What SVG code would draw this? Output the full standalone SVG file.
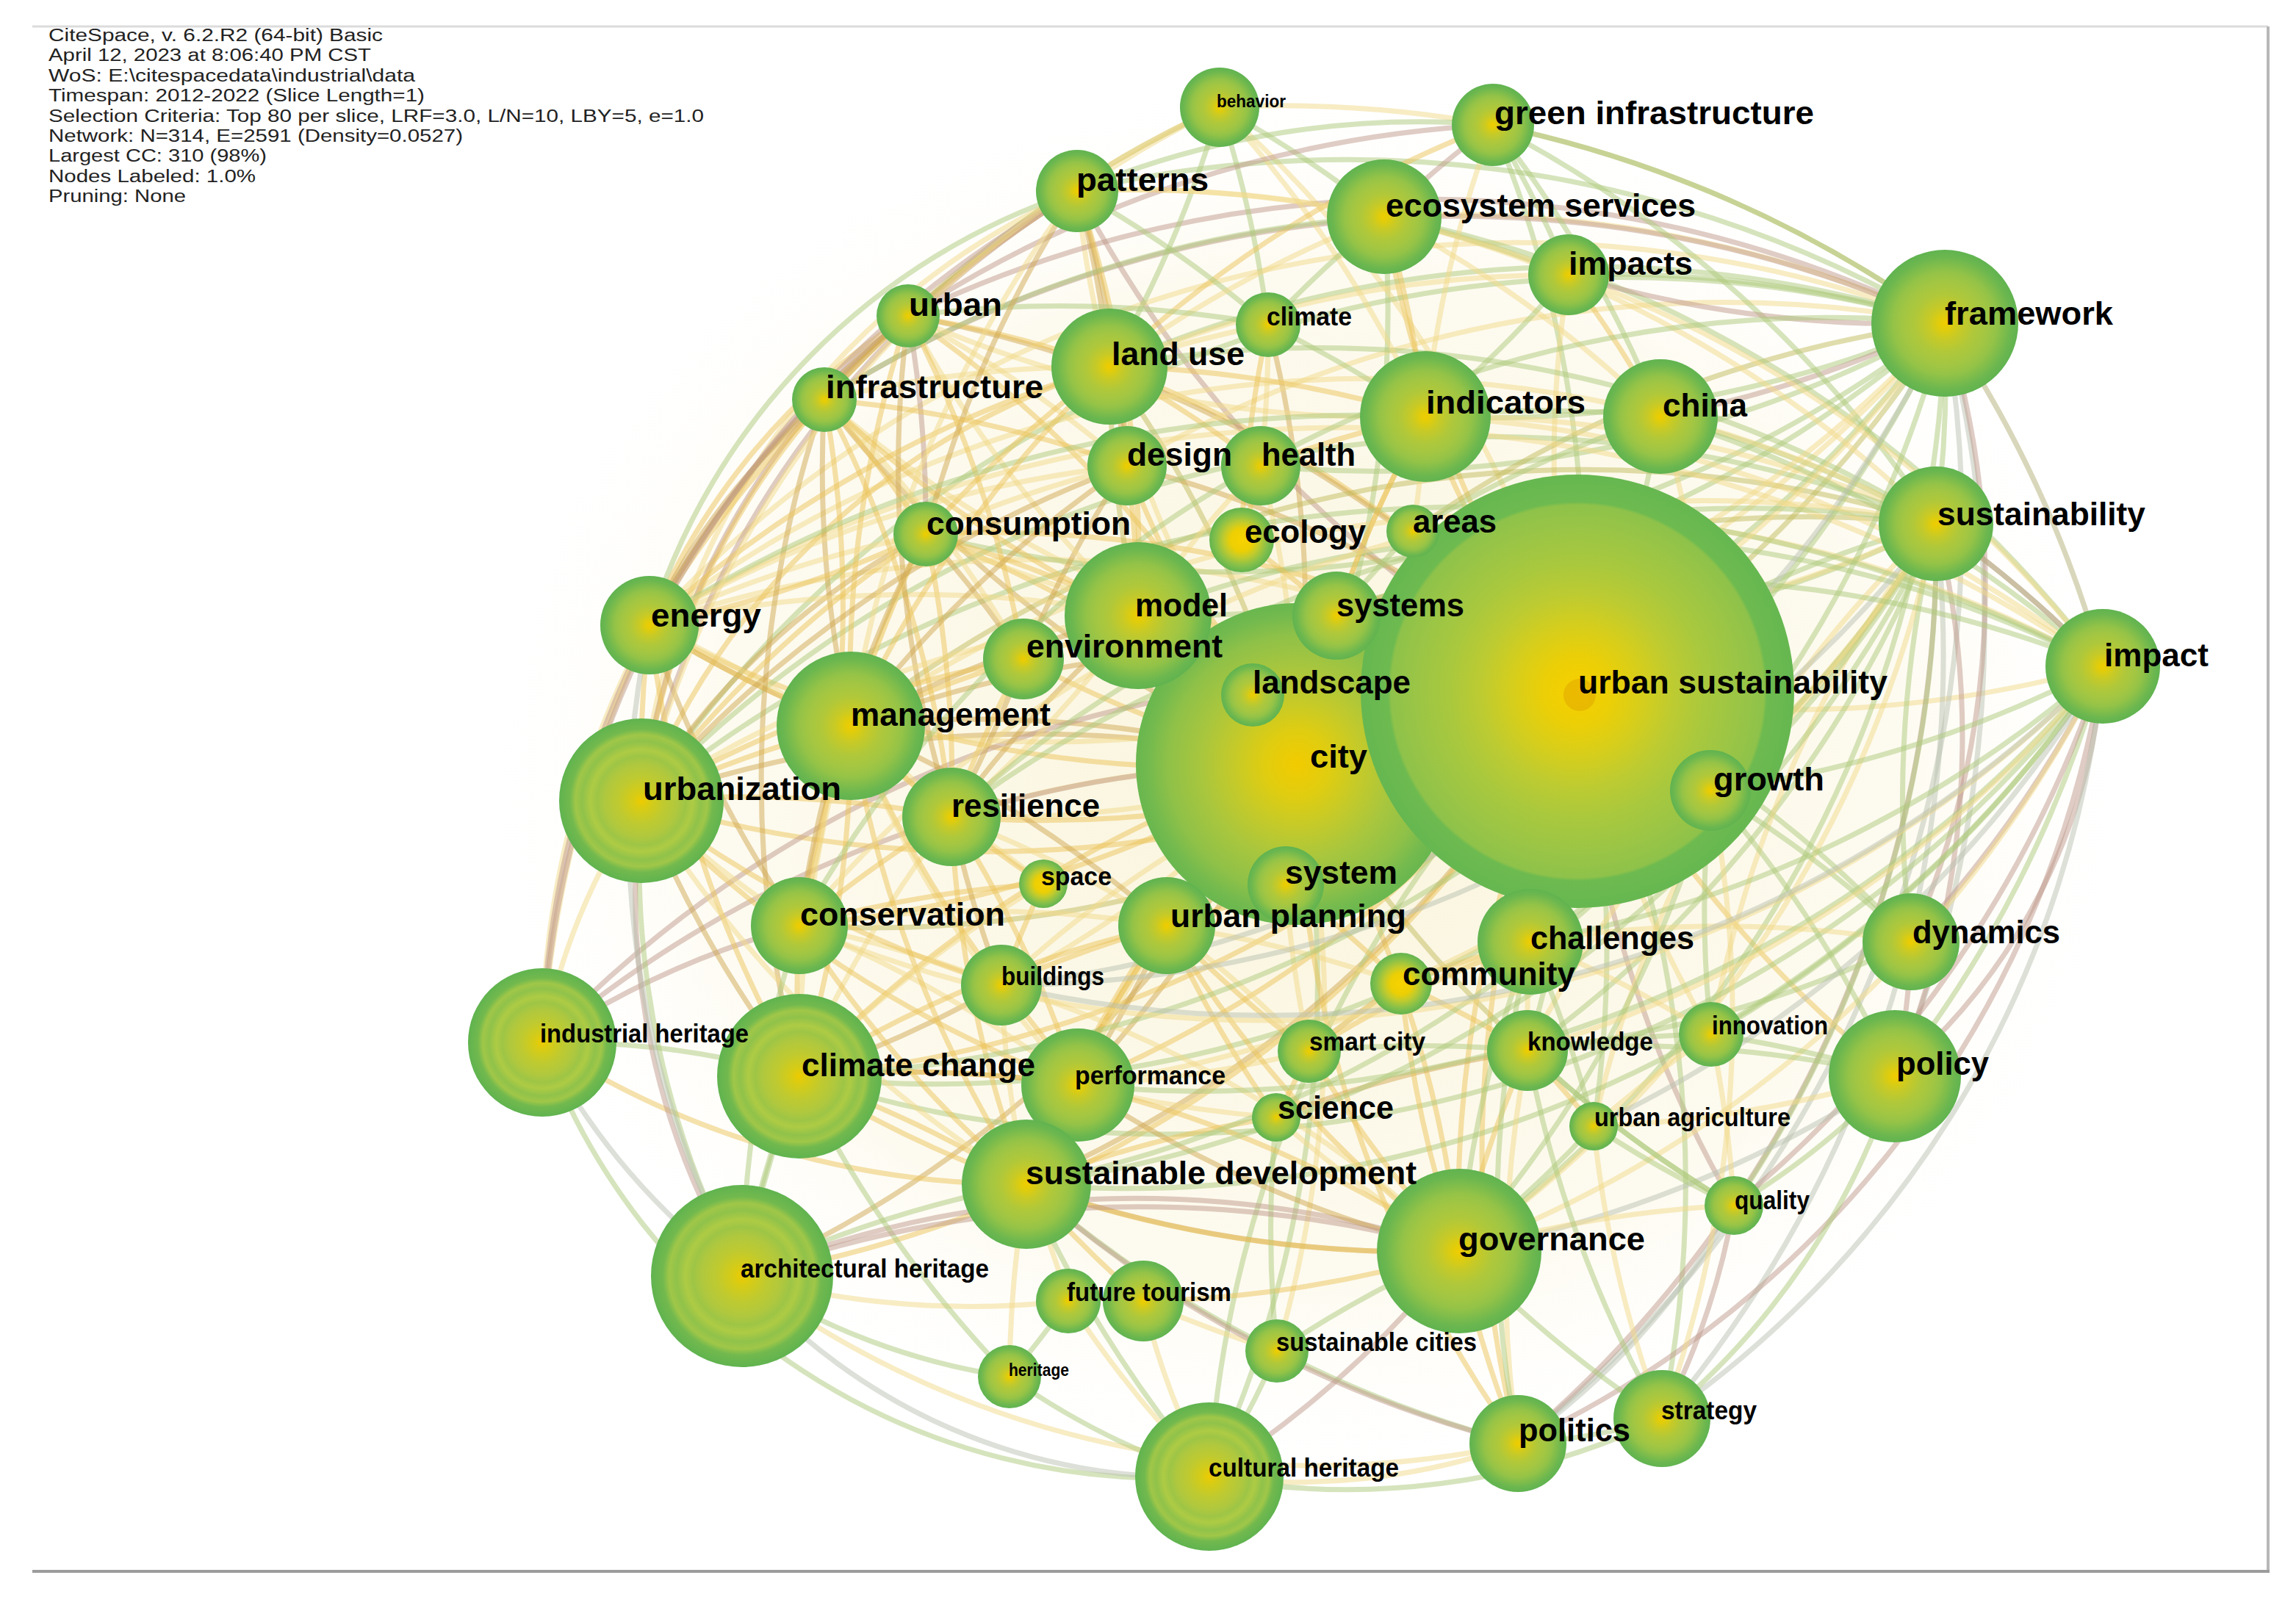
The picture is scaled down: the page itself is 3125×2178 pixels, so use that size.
<svg xmlns="http://www.w3.org/2000/svg" width="3125" height="2178" viewBox="0 0 3125 2178">
<style>
.hd{font-family:"Liberation Sans",Arial,sans-serif;font-size:23px;fill:#222}
.L{font-family:"Liberation Sans",Arial,sans-serif;font-weight:bold;font-size:44px;fill:#000}
.M{font-family:"Liberation Sans",Arial,sans-serif;font-weight:bold;font-size:35px;fill:#000}
.S{font-family:"Liberation Sans",Arial,sans-serif;font-weight:bold;font-size:23px;fill:#000}
#edges path{fill:none;stroke-width:7;stroke-opacity:.5;stroke-linecap:round}
#edges .a{stroke:#ecc45a}
#edges .b{stroke:#cfa852}
#edges .c{stroke:#aec97c}
#edges .d{stroke:#c09a8c}
#edges .e{stroke:#f1d98a}
#edges .f{stroke:#c2bb5e}
#edges .g{stroke:#b9c2b2}
.n{fill:url(#gn)}
.r{fill:url(#gr)}
</style>
<defs>
<radialGradient id="gn">
<stop offset="0" stop-color="#f0cc00"/>
<stop offset=".08" stop-color="#e2cd0a"/>
<stop offset=".22" stop-color="#c8ca26"/>
<stop offset=".4" stop-color="#b0c83a"/>
<stop offset=".58" stop-color="#a2c643"/>
<stop offset=".7" stop-color="#94c347"/>
<stop offset=".8" stop-color="#80bd4b"/>
<stop offset=".9" stop-color="#6cb74f"/>
<stop offset="1" stop-color="#60b350"/>
</radialGradient>
<radialGradient id="gr">
<stop offset="0" stop-color="#eecb00"/>
<stop offset=".1" stop-color="#d8cc14"/>
<stop offset=".28" stop-color="#bfca30"/>
<stop offset=".44" stop-color="#b0c83e"/>
<stop offset=".54" stop-color="#9ec546"/>
<stop offset=".62" stop-color="#aecb44"/>
<stop offset=".72" stop-color="#90c24a"/>
<stop offset=".8" stop-color="#a0c748"/>
<stop offset=".87" stop-color="#72b94e"/>
<stop offset="1" stop-color="#60b34f"/>
</radialGradient>
<radialGradient id="gy">
<stop offset="0" stop-color="#f8d200"/>
<stop offset=".35" stop-color="#eccf04"/>
<stop offset=".55" stop-color="#c2cb2c"/>
<stop offset=".8" stop-color="#86c04a"/>
<stop offset="1" stop-color="#62b44f"/>
</radialGradient>
<radialGradient id="gus">
<stop offset="0" stop-color="#f7d000"/>
<stop offset=".15" stop-color="#eccf06"/>
<stop offset=".3" stop-color="#d6ce1c"/>
<stop offset=".45" stop-color="#bccb32"/>
<stop offset=".6" stop-color="#a8c83e"/>
<stop offset=".75" stop-color="#9ac546"/>
<stop offset=".86" stop-color="#8ec24a"/>
<stop offset=".875" stop-color="#6dba50"/>
<stop offset="1" stop-color="#66b750"/>
</radialGradient>
<radialGradient id="gcity">
<stop offset="0" stop-color="#f2cb00"/>
<stop offset=".2" stop-color="#e0cd10"/>
<stop offset=".4" stop-color="#c4ca2a"/>
<stop offset=".6" stop-color="#a8c63e"/>
<stop offset=".8" stop-color="#8fc148"/>
<stop offset=".92" stop-color="#74ba4e"/>
<stop offset="1" stop-color="#68b74f"/>
</radialGradient>
<radialGradient id="haze">
<stop offset="0" stop-color="#f5e9b4" stop-opacity=".5"/>
<stop offset=".7" stop-color="#f8efc8" stop-opacity=".28"/>
<stop offset="1" stop-color="#ffffff" stop-opacity="0"/>
</radialGradient>
</defs>
<rect width="3125" height="2178" fill="#fff"/>
<ellipse cx="1780" cy="1060" rx="1150" ry="980" fill="url(#haze)"/>
<g id="frame" fill="none">
<line x1="44" y1="36" x2="3087" y2="36" stroke="#dcdcdc" stroke-width="3"/>
<line x1="3087" y1="36" x2="3087" y2="2139" stroke="#b8b8b8" stroke-width="4"/>
<line x1="44" y1="2139" x2="3089" y2="2139" stroke="#9c9c9c" stroke-width="4"/>
</g>
<g id="header">
<text class="hd" x="66" y="56" textLength="455" lengthAdjust="spacingAndGlyphs">CiteSpace, v. 6.2.R2 (64-bit) Basic</text>
<text class="hd" x="66" y="83" textLength="439" lengthAdjust="spacingAndGlyphs">April 12, 2023 at 8:06:40 PM CST</text>
<text class="hd" x="66" y="111" textLength="499" lengthAdjust="spacingAndGlyphs">WoS: E:\citespacedata\industrial\data</text>
<text class="hd" x="66" y="138" textLength="512" lengthAdjust="spacingAndGlyphs">Timespan: 2012-2022 (Slice Length=1)</text>
<text class="hd" x="66" y="166" textLength="892" lengthAdjust="spacingAndGlyphs">Selection Criteria: Top 80 per slice, LRF=3.0, L/N=10, LBY=5, e=1.0</text>
<text class="hd" x="66" y="193" textLength="564" lengthAdjust="spacingAndGlyphs">Network: N=314, E=2591 (Density=0.0527)</text>
<text class="hd" x="66" y="220" textLength="297" lengthAdjust="spacingAndGlyphs">Largest CC: 310 (98%)</text>
<text class="hd" x="66" y="248" textLength="282" lengthAdjust="spacingAndGlyphs">Nodes Labeled: 1.0%</text>
<text class="hd" x="66" y="275" textLength="187" lengthAdjust="spacingAndGlyphs">Pruning: None</text>
</g>
<g id="edges">
<path class="a" d="M1765 1040A1600 1600 0 0 1 1549 838"/>
<path class="b" d="M1765 1040A1600 1600 0 0 0 1158 988"/>
<path class="a" d="M1765 1040A1600 1600 0 0 1 1393 897"/>
<path class="e" d="M1765 1040A1600 1600 0 0 0 1295 1112"/>
<path class="a" d="M1765 1040A1600 1600 0 0 1 1088 1260"/>
<path class="b" d="M1765 1040A1600 1600 0 0 0 873 1090"/>
<path class="a" d="M1765 1040A1600 1600 0 0 1 884 851"/>
<path class="f" d="M1765 1040A1600 1600 0 0 0 1510 499"/>
<path class="a" d="M1765 1040A1600 1600 0 0 1 1534 634"/>
<path class="e" d="M1765 1040A1600 1600 0 0 0 1716 634"/>
<path class="a" d="M1765 1040A1600 1600 0 0 0 1260 727"/>
<path class="b" d="M1765 1040A1600 1600 0 0 1 1122 544"/>
<path class="a" d="M1765 1040A1600 1600 0 0 0 1236 430"/>
<path class="e" d="M1765 1040A1600 1600 0 0 1 1466 260"/>
<path class="a" d="M1765 1040A1600 1600 0 0 0 1088 1465"/>
<path class="b" d="M1765 1040A1600 1600 0 0 1 1467 1477"/>
<path class="a" d="M1765 1040A1600 1600 0 0 0 1397 1612"/>
<path class="e" d="M1765 1040A1600 1600 0 0 1 1363 1341"/>
<path class="a" d="M1765 1040A1600 1600 0 0 1 1986 1703"/>
<path class="f" d="M1765 1040A1600 1600 0 0 0 2079 1430"/>
<path class="c" d="M1765 1040A1600 1600 0 0 1 1646 2010"/>
<path class="b" d="M1765 1040A1600 1600 0 0 1 1010 1737"/>
<path class="d" d="M1765 1040A1600 1600 0 0 0 738 1419"/>
<path class="a" d="M1765 1040A1600 1600 0 0 0 2066 1965"/>
<path class="e" d="M1765 1040A1600 1600 0 0 1 1738 1839"/>
<path class="c" d="M1765 1040A1600 1600 0 0 0 1884 295"/>
<path class="a" d="M1765 1040A1600 1600 0 0 1 1940 567"/>
<path class="b" d="M1765 1040A1600 1600 0 0 0 1726 442"/>
<path class="a" d="M2147 941A1600 1600 0 0 1 1940 567"/>
<path class="c" d="M2147 941A1600 1600 0 0 0 2260 567"/>
<path class="a" d="M2147 941A1600 1600 0 0 1 1884 295"/>
<path class="c" d="M2147 941A1600 1600 0 0 0 2032 170"/>
<path class="e" d="M2147 941A1600 1600 0 0 1 2135 374"/>
<path class="f" d="M2147 941A1600 1600 0 0 0 2647 440"/>
<path class="c" d="M2147 941A1600 1600 0 0 1 2635 713"/>
<path class="e" d="M2147 941A1600 1600 0 0 0 2862 907"/>
<path class="c" d="M2147 941A1600 1600 0 0 1 2601 1282"/>
<path class="a" d="M2147 941A1600 1600 0 0 0 2579 1465"/>
<path class="b" d="M2147 941A1600 1600 0 0 1 2083 1282"/>
<path class="a" d="M2147 941A1600 1600 0 0 0 1986 1703"/>
<path class="c" d="M2147 941A1600 1600 0 0 1 2079 1430"/>
<path class="e" d="M2147 941A1600 1600 0 0 0 2329 1408"/>
<path class="c" d="M2147 941A1600 1600 0 0 1 2169 1533"/>
<path class="d" d="M2147 941A1600 1600 0 0 0 2360 1641"/>
<path class="c" d="M2147 941A1600 1600 0 0 1 2262 1931"/>
<path class="a" d="M2147 941A1600 1600 0 0 0 2066 1965"/>
<path class="b" d="M2147 941A1600 1600 0 0 1 1397 1612"/>
<path class="a" d="M2147 941A1600 1600 0 0 1 1088 1465"/>
<path class="b" d="M2147 941A1600 1600 0 0 0 1158 988"/>
<path class="a" d="M2147 941A1600 1600 0 0 1 873 1090"/>
<path class="e" d="M2147 941A1600 1600 0 0 0 884 851"/>
<path class="a" d="M2147 941A1600 1600 0 0 1 1295 1112"/>
<path class="f" d="M2147 941A1600 1600 0 0 1 1088 1260"/>
<path class="a" d="M2147 941A1600 1600 0 0 0 1510 499"/>
<path class="b" d="M2147 941A1600 1600 0 0 0 1236 430"/>
<path class="e" d="M2147 941A1600 1600 0 0 1 1122 544"/>
<path class="a" d="M2147 941A1600 1600 0 0 0 1260 727"/>
<path class="d" d="M2147 941A1600 1600 0 0 1 1466 260"/>
<path class="e" d="M2147 941A1600 1600 0 0 0 1660 146"/>
<path class="a" d="M2147 941A1600 1600 0 0 1 1549 838"/>
<path class="b" d="M2147 941A1600 1600 0 0 0 1534 634"/>
<path class="a" d="M2147 941A1600 1600 0 0 1 1467 1477"/>
<path class="e" d="M2147 941A1600 1600 0 0 0 1363 1341"/>
<path class="c" d="M2147 941A1600 1600 0 0 0 1646 2010"/>
<path class="a" d="M2147 941A1600 1600 0 0 1 1010 1737"/>
<path class="d" d="M2147 941A1600 1600 0 0 0 738 1419"/>
<path class="c" d="M2647 440A1600 1600 0 0 0 1510 499"/>
<path class="d" d="M2647 440A1600 1600 0 0 0 1236 430"/>
<path class="c" d="M2647 440A1600 1600 0 0 0 1466 260"/>
<path class="e" d="M2647 440A1600 1600 0 0 0 1884 295"/>
<path class="c" d="M2647 440A1600 1600 0 0 0 2135 374"/>
<path class="f" d="M2647 440A1600 1600 0 0 0 2032 170"/>
<path class="c" d="M2647 440A1600 1600 0 0 1 1940 567"/>
<path class="d" d="M2647 440A1600 1600 0 0 1 2260 567"/>
<path class="c" d="M2647 440A1600 1600 0 0 1 1549 838"/>
<path class="e" d="M2647 440A1600 1600 0 0 1 1158 988"/>
<path class="c" d="M2647 440A1600 1600 0 0 0 873 1090"/>
<path class="e" d="M2647 440A1600 1600 0 0 0 884 851"/>
<path class="c" d="M2647 440A1600 1600 0 0 1 1260 727"/>
<path class="d" d="M2647 440A1600 1600 0 0 0 1122 544"/>
<path class="c" d="M2647 440A1600 1600 0 0 1 2635 713"/>
<path class="e" d="M2647 440A1600 1600 0 0 1 2862 907"/>
<path class="g" d="M2647 440A1600 1600 0 0 1 2579 1465"/>
<path class="d" d="M2647 440A1200 1200 0 0 1 2601 1282"/>
<path class="c" d="M2647 440A1600 1600 0 0 1 1986 1703"/>
<path class="g" d="M2647 440A1600 1600 0 0 1 2066 1965"/>
<path class="c" d="M2647 440A1600 1600 0 0 1 1765 1040"/>
<path class="e" d="M2647 440A1600 1600 0 0 0 1534 634"/>
<path class="c" d="M2647 440A1600 1600 0 0 1 1716 634"/>
<path class="f" d="M2647 440A1600 1600 0 0 0 1923 723"/>
<path class="c" d="M2635 713A1600 1600 0 0 0 2032 170"/>
<path class="e" d="M2635 713A1600 1600 0 0 0 1884 295"/>
<path class="c" d="M2635 713A1600 1600 0 0 0 2260 567"/>
<path class="e" d="M2635 713A1600 1600 0 0 0 1940 567"/>
<path class="c" d="M2635 713A1600 1600 0 0 0 1510 499"/>
<path class="f" d="M2635 713A1600 1600 0 0 0 1158 988"/>
<path class="c" d="M2635 713A1600 1600 0 0 0 873 1090"/>
<path class="e" d="M2635 713A1600 1600 0 0 0 884 851"/>
<path class="c" d="M2635 713A1600 1600 0 0 1 1088 1465"/>
<path class="c" d="M2635 713A1600 1600 0 0 1 2862 907"/>
<path class="d" d="M2635 713A1200 1200 0 0 1 2579 1465"/>
<path class="c" d="M2635 713A1600 1600 0 0 0 2601 1282"/>
<path class="e" d="M2635 713A1600 1600 0 0 1 1986 1703"/>
<path class="g" d="M2635 713A1600 1600 0 0 1 2262 1931"/>
<path class="d" d="M2635 713A1600 1600 0 0 1 2066 1965"/>
<path class="c" d="M2635 713A1600 1600 0 0 1 2079 1430"/>
<path class="e" d="M2635 713A1600 1600 0 0 0 2329 1408"/>
<path class="c" d="M2635 713A1600 1600 0 0 1 2360 1641"/>
<path class="e" d="M2635 713A1600 1600 0 0 0 2169 1533"/>
<path class="c" d="M2635 713A1600 1600 0 0 1 1549 838"/>
<path class="f" d="M2635 713A1600 1600 0 0 0 1819 838"/>
<path class="c" d="M2635 713A1600 1600 0 0 1 2328 1076"/>
<path class="e" d="M2635 713A1600 1600 0 0 1 1260 727"/>
<path class="c" d="M2862 907A1600 1600 0 0 0 2260 567"/>
<path class="e" d="M2862 907A1600 1600 0 0 0 1940 567"/>
<path class="c" d="M2862 907A1600 1600 0 0 0 1884 295"/>
<path class="c" d="M2862 907A1600 1600 0 0 1 2328 1076"/>
<path class="d" d="M2862 907A1600 1600 0 0 1 2601 1282"/>
<path class="c" d="M2862 907A1600 1600 0 0 1 2579 1465"/>
<path class="d" d="M2862 907A800 800 0 0 1 2579 1465"/>
<path class="e" d="M2862 907A1600 1600 0 0 1 1986 1703"/>
<path class="d" d="M2862 907A1400 1400 0 0 1 2066 1965"/>
<path class="g" d="M2862 907A1400 1400 0 0 1 2262 1931"/>
<path class="c" d="M2862 907A1600 1600 0 0 1 1088 1465"/>
<path class="e" d="M2862 907A1600 1600 0 0 0 1158 988"/>
<path class="c" d="M2862 907A1600 1600 0 0 0 1549 838"/>
<path class="c" d="M2862 907A1800 1800 0 0 0 873 1090"/>
<path class="e" d="M2862 907A1600 1600 0 0 0 2135 374"/>
<path class="c" d="M2862 907A1600 1600 0 0 1 2083 1282"/>
<path class="d" d="M2862 907A1600 1600 0 0 1 2360 1641"/>
<path class="c" d="M2862 907A1600 1600 0 0 1 1397 1612"/>
<path class="e" d="M2862 907A1800 1800 0 0 0 884 851"/>
<path class="c" d="M884 851A900 900 0 0 1 1466 260"/>
<path class="a" d="M884 851A900 900 0 0 1 1236 430"/>
<path class="b" d="M884 851A900 900 0 0 1 1122 544"/>
<path class="e" d="M873 1090A1000 1000 0 0 1 1466 260"/>
<path class="a" d="M873 1090A1000 1000 0 0 1 1510 499"/>
<path class="d" d="M873 1090A1000 1000 0 0 1 1236 430"/>
<path class="a" d="M873 1090A1000 1000 0 0 1 1122 544"/>
<path class="b" d="M873 1090A1000 1000 0 0 1 1260 727"/>
<path class="c" d="M738 1419A1200 1200 0 0 1 1088 1465"/>
<path class="g" d="M738 1419A900 900 0 0 0 1010 1737"/>
<path class="c" d="M738 1419A900 900 0 0 0 1646 2010"/>
<path class="e" d="M738 1419A900 900 0 0 1 873 1090"/>
<path class="d" d="M738 1419A1200 1200 0 0 1 1088 1260"/>
<path class="a" d="M738 1419A1200 1200 0 0 0 1397 1612"/>
<path class="g" d="M1010 1737A800 800 0 0 0 1646 2010"/>
<path class="c" d="M1010 1737A900 900 0 0 0 1374 1874"/>
<path class="e" d="M1010 1737A1200 1200 0 0 0 1454 1771"/>
<path class="c" d="M1010 1737A1200 1200 0 0 1 1088 1465"/>
<path class="e" d="M1010 1737A1300 1300 0 0 0 2066 1965"/>
<path class="d" d="M1010 1737A1400 1400 0 0 1 1986 1703"/>
<path class="e" d="M1646 2010A900 900 0 0 0 2066 1965"/>
<path class="c" d="M1646 2010A1000 1000 0 0 0 2262 1931"/>
<path class="d" d="M1646 2010A1400 1400 0 0 0 1986 1703"/>
<path class="c" d="M1646 2010A1000 1000 0 0 1 1374 1874"/>
<path class="e" d="M1646 2010A1000 1000 0 0 1 1556 1771"/>
<path class="c" d="M1646 2010A1000 1000 0 0 0 1738 1839"/>
<path class="c" d="M2066 1965A900 900 0 0 0 2262 1931"/>
<path class="a" d="M2066 1965A1600 1600 0 0 1 1986 1703"/>
<path class="g" d="M2066 1965A1000 1000 0 0 0 2360 1641"/>
<path class="c" d="M2262 1931A1000 1000 0 0 0 2579 1465"/>
<path class="d" d="M2262 1931A1000 1000 0 0 0 2360 1641"/>
<path class="c" d="M2262 1931A1600 1600 0 0 1 1986 1703"/>
<path class="c" d="M2360 1641A1000 1000 0 0 0 2579 1465"/>
<path class="d" d="M2601 1282A1000 1000 0 0 1 2579 1465"/>
<path class="c" d="M2601 1282A1600 1600 0 0 0 2328 1076"/>
<path class="g" d="M2579 1465A1600 1600 0 0 1 1986 1703"/>
<path class="c" d="M2579 1465A1600 1600 0 0 0 2329 1408"/>
<path class="e" d="M2579 1465A1600 1600 0 0 1 2169 1533"/>
<path class="c" d="M2579 1465A1600 1600 0 0 0 2079 1430"/>
<path class="e" d="M2601 1282A1600 1600 0 0 0 2083 1282"/>
<path class="c" d="M2601 1282A1600 1600 0 0 1 2079 1430"/>
<path class="e" d="M738 1419A1200 1200 0 0 1 884 851"/>
<path class="d" d="M738 1419A1300 1300 0 0 1 1236 430"/>
<path class="e" d="M1660 146A1600 1600 0 0 0 1466 260"/>
<path class="c" d="M1660 146A1600 1600 0 0 1 1510 499"/>
<path class="c" d="M1660 146A1600 1600 0 0 1 1884 295"/>
<path class="e" d="M1660 146A1600 1600 0 0 1 2032 170"/>
<path class="c" d="M1660 146A1600 1600 0 0 1 1726 442"/>
<path class="e" d="M1660 146A1600 1600 0 0 1 1940 567"/>
<path class="d" d="M2032 170A1600 1600 0 0 0 1884 295"/>
<path class="c" d="M2032 170A1600 1600 0 0 1 2647 440"/>
<path class="c" d="M2032 170A1600 1600 0 0 1 2135 374"/>
<path class="e" d="M2032 170A1600 1600 0 0 0 1940 567"/>
<path class="a" d="M2032 170A1600 1600 0 0 0 1510 499"/>
<path class="c" d="M2032 170A1200 1200 0 0 0 1466 260"/>
<path class="c" d="M2032 170A1600 1600 0 0 1 2260 567"/>
<path class="b" d="M1466 260A1600 1600 0 0 1 1510 499"/>
<path class="d" d="M1466 260A1600 1600 0 0 0 1236 430"/>
<path class="a" d="M1466 260A1600 1600 0 0 0 1122 544"/>
<path class="e" d="M1466 260A1600 1600 0 0 1 1884 295"/>
<path class="b" d="M1466 260A1600 1600 0 0 1 1534 634"/>
<path class="c" d="M1466 260A1600 1600 0 0 1 1726 442"/>
<path class="a" d="M1466 260A1600 1600 0 0 1 1549 838"/>
<path class="c" d="M1884 295A1600 1600 0 0 1 2135 374"/>
<path class="a" d="M1884 295A1600 1600 0 0 1 1940 567"/>
<path class="e" d="M1884 295A1600 1600 0 0 0 1510 499"/>
<path class="c" d="M1884 295A1600 1600 0 0 0 1726 442"/>
<path class="e" d="M1884 295A1600 1600 0 0 1 2260 567"/>
<path class="c" d="M2135 374A1600 1600 0 0 1 1940 567"/>
<path class="a" d="M2135 374A1600 1600 0 0 1 2260 567"/>
<path class="e" d="M2135 374A1600 1600 0 0 0 1510 499"/>
<path class="b" d="M1236 430A1600 1600 0 0 0 1122 544"/>
<path class="a" d="M1236 430A1600 1600 0 0 1 1510 499"/>
<path class="d" d="M1236 430A1600 1600 0 0 1 1260 727"/>
<path class="a" d="M1236 430A1600 1600 0 0 0 1158 988"/>
<path class="e" d="M1236 430A1600 1600 0 0 1 1534 634"/>
<path class="a" d="M1122 544A1600 1600 0 0 1 1260 727"/>
<path class="b" d="M1122 544A1600 1600 0 0 0 1158 988"/>
<path class="a" d="M1122 544A1600 1600 0 0 0 884 851"/>
<path class="e" d="M1122 544A1600 1600 0 0 1 1510 499"/>
<path class="a" d="M1122 544A1600 1600 0 0 1 1534 634"/>
<path class="b" d="M1510 499A1600 1600 0 0 1 1534 634"/>
<path class="a" d="M1510 499A1600 1600 0 0 1 1716 634"/>
<path class="f" d="M1510 499A1600 1600 0 0 0 1549 838"/>
<path class="e" d="M1510 499A1600 1600 0 0 1 1726 442"/>
<path class="a" d="M1510 499A1600 1600 0 0 1 1940 567"/>
<path class="c" d="M1726 442A1600 1600 0 0 1 1940 567"/>
<path class="e" d="M1726 442A1600 1600 0 0 1 1716 634"/>
<path class="a" d="M1726 442A1600 1600 0 0 0 1690 735"/>
<path class="c" d="M1940 567A1600 1600 0 0 1 2260 567"/>
<path class="a" d="M1940 567A1600 1600 0 0 0 1716 634"/>
<path class="e" d="M1940 567A1600 1600 0 0 1 1923 723"/>
<path class="a" d="M1940 567A1600 1600 0 0 0 1819 838"/>
<path class="c" d="M2260 567A1600 1600 0 0 0 1923 723"/>
<path class="e" d="M2260 567A1600 1600 0 0 1 2328 1076"/>
<path class="a" d="M1260 727A1600 1600 0 0 0 1158 988"/>
<path class="b" d="M1260 727A1600 1600 0 0 1 1393 897"/>
<path class="a" d="M1260 727A1600 1600 0 0 1 1549 838"/>
<path class="e" d="M1260 727A1600 1600 0 0 0 884 851"/>
<path class="a" d="M1260 727A1600 1600 0 0 1 1295 1112"/>
<path class="a" d="M1534 634A1600 1600 0 0 1 1549 838"/>
<path class="b" d="M1534 634A1600 1600 0 0 0 1393 897"/>
<path class="a" d="M1716 634A1600 1600 0 0 1 1690 735"/>
<path class="e" d="M1716 634A1600 1600 0 0 0 1549 838"/>
<path class="a" d="M1690 735A1600 1600 0 0 1 1819 838"/>
<path class="c" d="M1923 723A1600 1600 0 0 0 1819 838"/>
<path class="a" d="M1549 838A1600 1600 0 0 1 1393 897"/>
<path class="b" d="M1549 838A1600 1600 0 0 0 1158 988"/>
<path class="e" d="M1549 838A1600 1600 0 0 1 1295 1112"/>
<path class="a" d="M1819 838A1600 1600 0 0 1 1705 946"/>
<path class="a" d="M1393 897A1600 1600 0 0 0 1158 988"/>
<path class="b" d="M1393 897A1600 1600 0 0 1 1295 1112"/>
<path class="a" d="M1158 988A1600 1600 0 0 0 873 1090"/>
<path class="e" d="M1158 988A1600 1600 0 0 1 1295 1112"/>
<path class="a" d="M1158 988A1600 1600 0 0 0 1088 1260"/>
<path class="b" d="M1158 988A1600 1600 0 0 1 884 851"/>
<path class="a" d="M873 1090A1600 1600 0 0 1 1295 1112"/>
<path class="e" d="M873 1090A1600 1600 0 0 0 1088 1260"/>
<path class="b" d="M873 1090A1600 1600 0 0 0 1088 1465"/>
<path class="a" d="M1295 1112A1600 1600 0 0 0 1088 1260"/>
<path class="e" d="M1295 1112A1600 1600 0 0 1 1420 1203"/>
<path class="a" d="M1295 1112A1600 1600 0 0 1 1467 1477"/>
<path class="b" d="M1295 1112A1600 1600 0 0 0 1363 1341"/>
<path class="a" d="M1088 1260A1600 1600 0 0 0 1088 1465"/>
<path class="e" d="M1088 1260A1600 1600 0 0 1 1363 1341"/>
<path class="a" d="M1588 1260A1600 1600 0 0 0 1363 1341"/>
<path class="b" d="M1588 1260A1600 1600 0 0 1 1467 1477"/>
<path class="a" d="M1588 1260A1600 1600 0 0 0 1750 1204"/>
<path class="e" d="M1588 1260A1600 1600 0 0 1 1782 1431"/>
<path class="a" d="M1588 1260A1600 1600 0 0 0 1397 1612"/>
<path class="a" d="M1420 1203A1600 1600 0 0 0 1363 1341"/>
<path class="b" d="M1467 1477A1600 1600 0 0 0 1088 1465"/>
<path class="a" d="M1467 1477A1600 1600 0 0 1 1397 1612"/>
<path class="e" d="M1467 1477A1600 1600 0 0 0 1782 1431"/>
<path class="a" d="M1397 1612A1600 1600 0 0 0 1088 1465"/>
<path class="b" d="M1397 1612A1600 1600 0 0 0 1986 1703"/>
<path class="c" d="M1397 1612A1600 1600 0 0 0 1738 1839"/>
<path class="e" d="M1397 1612A1600 1600 0 0 1 1454 1771"/>
<path class="a" d="M1397 1612A1600 1600 0 0 1 1737 1521"/>
<path class="a" d="M1737 1521A1600 1600 0 0 0 1782 1431"/>
<path class="e" d="M1737 1521A1600 1600 0 0 0 1986 1703"/>
<path class="c" d="M1782 1431A1600 1600 0 0 1 2079 1430"/>
<path class="a" d="M2079 1430A1600 1600 0 0 0 1907 1339"/>
<path class="e" d="M2079 1430A1600 1600 0 0 1 2083 1282"/>
<path class="c" d="M2079 1430A1600 1600 0 0 1 2329 1408"/>
<path class="a" d="M1907 1339A1600 1600 0 0 1 2083 1282"/>
<path class="b" d="M1907 1339A1600 1600 0 0 0 1782 1431"/>
<path class="a" d="M2083 1282A1600 1600 0 0 1 2328 1076"/>
<path class="c" d="M2083 1282A1600 1600 0 0 0 1986 1703"/>
<path class="a" d="M1986 1703A1600 1600 0 0 1 2079 1430"/>
<path class="c" d="M1986 1703A1600 1600 0 0 0 2169 1533"/>
<path class="e" d="M1986 1703A1600 1600 0 0 1 2360 1641"/>
<path class="c" d="M1986 1703A1600 1600 0 0 0 1738 1839"/>
<path class="a" d="M1986 1703A1600 1600 0 0 1 1556 1771"/>
<path class="e" d="M2169 1533A1600 1600 0 0 1 2329 1408"/>
<path class="c" d="M2169 1533A1600 1600 0 0 0 2360 1641"/>
<path class="c" d="M2329 1408A1600 1600 0 0 1 2328 1076"/>
<path class="a" d="M1088 1465A1600 1600 0 0 1 1467 1477"/>
<path class="b" d="M1088 1465A1600 1600 0 0 0 1363 1341"/>
<path class="e" d="M1088 1465A1600 1600 0 0 1 1295 1112"/>
<path class="a" d="M1088 1465A1600 1600 0 0 0 1158 988"/>
<path class="a" d="M884 851A1600 1600 0 0 0 1158 988"/>
<path class="e" d="M884 851A1600 1600 0 0 1 1295 1112"/>
<path class="b" d="M884 851A1600 1600 0 0 0 1088 1260"/>
<path class="a" d="M884 851A1600 1600 0 0 0 1260 727"/>
<path class="e" d="M884 851A1600 1600 0 0 1 1549 838"/>
<path class="a" d="M1088 1260A1600 1600 0 0 0 1397 1612"/>
<path class="e" d="M1088 1260A1600 1600 0 0 1 1467 1477"/>
<path class="a" d="M1588 1260A1600 1600 0 0 0 1986 1703"/>
<path class="e" d="M1588 1260A1600 1600 0 0 1 1907 1339"/>
<path class="a" d="M1750 1204A1600 1600 0 0 1 1907 1339"/>
<path class="e" d="M1750 1204A1600 1600 0 0 0 1782 1431"/>
<path class="b" d="M1737 1521A1600 1600 0 0 1 2079 1430"/>
<path class="c" d="M1737 1521A1600 1600 0 0 0 1738 1839"/>
<path class="c" d="M1374 1874A1600 1600 0 0 0 1454 1771"/>
<path class="e" d="M1374 1874A1600 1600 0 0 1 1397 1612"/>
<path class="c" d="M1374 1874A1600 1600 0 0 1 1088 1465"/>
<path class="e" d="M1556 1771A1600 1600 0 0 0 1738 1839"/>
<path class="c" d="M1738 1839A1600 1600 0 0 0 2066 1965"/>
<path class="e" d="M2066 1965A1600 1600 0 0 1 2079 1430"/>
<path class="c" d="M2066 1965A1600 1600 0 0 1 2083 1282"/>
<path class="d" d="M2066 1965A1600 1600 0 0 1 1397 1612"/>
<path class="c" d="M2262 1931A1600 1600 0 0 1 2079 1430"/>
<path class="e" d="M2262 1931A1600 1600 0 0 1 2169 1533"/>
<path class="c" d="M2360 1641A1600 1600 0 0 1 2079 1430"/>
<path class="e" d="M2329 1408A1600 1600 0 0 0 2083 1282"/>
<path class="c" d="M2328 1076A1600 1600 0 0 1 1986 1703"/>
<path class="e" d="M2328 1076A1600 1600 0 0 0 2079 1430"/>
<path class="d" d="M1466 260A1300 1300 0 0 0 873 1090"/>
<path class="b" d="M1236 430A1400 1400 0 0 0 884 851"/>
<path class="f" d="M1660 146A1600 1600 0 0 0 1236 430"/>
<path class="d" d="M2032 170A1600 1600 0 0 0 1236 430"/>
<path class="c" d="M1884 295A1600 1600 0 0 0 1122 544"/>
<path class="e" d="M2135 374A1600 1600 0 0 0 1466 260"/>
<path class="d" d="M2647 440A1600 1600 0 0 1 2135 374"/>
<path class="g" d="M2862 907A1600 1600 0 0 0 2647 440"/>
<path class="d" d="M2862 907A1600 1600 0 0 0 2635 713"/>
<path class="a" d="M1122 544A1600 1600 0 0 1 1295 1112"/>
<path class="e" d="M1122 544A1600 1600 0 0 1 1393 897"/>
<path class="a" d="M1122 544A1600 1600 0 0 0 1549 838"/>
<path class="b" d="M1122 544A1600 1600 0 0 0 1088 1465"/>
<path class="a" d="M1122 544A1600 1600 0 0 1 1088 1260"/>
<path class="e" d="M1236 430A1600 1600 0 0 0 1549 838"/>
<path class="a" d="M1236 430A1600 1600 0 0 1 1393 897"/>
<path class="b" d="M1236 430A1600 1600 0 0 0 1295 1112"/>
<path class="c" d="M1236 430A1600 1600 0 0 1 1726 442"/>
<path class="e" d="M1236 430A1600 1600 0 0 0 1940 567"/>
<path class="a" d="M1260 727A1600 1600 0 0 0 873 1090"/>
<path class="e" d="M1260 727A1600 1600 0 0 0 1088 1465"/>
<path class="b" d="M1260 727A1600 1600 0 0 0 1088 1260"/>
<path class="a" d="M1260 727A1600 1600 0 0 1 1510 499"/>
<path class="e" d="M1260 727A1600 1600 0 0 1 1534 634"/>
<path class="b" d="M1260 727A1600 1600 0 0 1 1466 260"/>
<path class="a" d="M884 851A1600 1600 0 0 0 873 1090"/>
<path class="e" d="M884 851A1600 1600 0 0 0 738 1419"/>
<path class="a" d="M884 851A1600 1600 0 0 0 1088 1465"/>
<path class="c" d="M884 851A1800 1800 0 0 1 1940 567"/>
<path class="e" d="M884 851A1600 1600 0 0 1 1534 634"/>
<path class="a" d="M884 851A1600 1600 0 0 1 1510 499"/>
<path class="a" d="M873 1090A1600 1600 0 0 1 1393 897"/>
<path class="e" d="M873 1090A1600 1600 0 0 1 1549 838"/>
<path class="b" d="M873 1090A1600 1600 0 0 1 1534 634"/>
<path class="a" d="M873 1090A1600 1600 0 0 0 1467 1477"/>
<path class="e" d="M873 1090A1600 1600 0 0 0 1397 1612"/>
<path class="a" d="M873 1090A1600 1600 0 0 0 1363 1341"/>
<path class="c" d="M873 1090A1200 1200 0 0 0 1010 1737"/>
<path class="a" d="M1158 988A1600 1600 0 0 1 1510 499"/>
<path class="b" d="M1158 988A1600 1600 0 0 1 1534 634"/>
<path class="e" d="M1158 988A1600 1600 0 0 1 1466 260"/>
<path class="a" d="M1158 988A1600 1600 0 0 0 1363 1341"/>
<path class="e" d="M1158 988A1600 1600 0 0 0 1467 1477"/>
<path class="a" d="M1158 988A1600 1600 0 0 0 1397 1612"/>
<path class="b" d="M1158 988A1600 1600 0 0 1 1588 1260"/>
<path class="a" d="M1158 988A1600 1600 0 0 0 1420 1203"/>
<path class="a" d="M1295 1112A1600 1600 0 0 0 1397 1612"/>
<path class="e" d="M1295 1112A1600 1600 0 0 1 1588 1260"/>
<path class="a" d="M1295 1112A1600 1600 0 0 1 1393 897"/>
<path class="b" d="M1295 1112A1600 1600 0 0 1 1549 838"/>
<path class="a" d="M1088 1260A1600 1600 0 0 1 1420 1203"/>
<path class="e" d="M1088 1260A1600 1600 0 0 1 1588 1260"/>
<path class="c" d="M1088 1260A1600 1600 0 0 0 1010 1737"/>
<path class="e" d="M1088 1465A1600 1600 0 0 1 1420 1203"/>
<path class="a" d="M1088 1465A1600 1600 0 0 1 1588 1260"/>
<path class="c" d="M1088 1465A1600 1600 0 0 0 1010 1737"/>
<path class="a" d="M1467 1477A1600 1600 0 0 0 1363 1341"/>
<path class="e" d="M1467 1477A1600 1600 0 0 1 1588 1260"/>
<path class="b" d="M1467 1477A1600 1600 0 0 0 1986 1703"/>
<path class="a" d="M1397 1612A1600 1600 0 0 1 1588 1260"/>
<path class="e" d="M1397 1612A1600 1600 0 0 1 1363 1341"/>
<path class="c" d="M1397 1612A1600 1600 0 0 0 1010 1737"/>
<path class="c" d="M1397 1612A1600 1600 0 0 0 1646 2010"/>
<path class="a" d="M1397 1612A1600 1600 0 0 0 1556 1771"/>
<path class="e" d="M1454 1771A1600 1600 0 0 0 1646 2010"/>
<path class="a" d="M1737 1521A1600 1600 0 0 1 1588 1260"/>
<path class="e" d="M1737 1521A1600 1600 0 0 1 1467 1477"/>
<path class="a" d="M1782 1431A1600 1600 0 0 0 1986 1703"/>
<path class="e" d="M1782 1431A1600 1600 0 0 1 1907 1339"/>
<path class="a" d="M1782 1431A1600 1600 0 0 1 1588 1260"/>
<path class="a" d="M1907 1339A1600 1600 0 0 0 1986 1703"/>
<path class="a" d="M2083 1282A1600 1600 0 0 0 1782 1431"/>
<path class="c" d="M2083 1282A1600 1600 0 0 1 2169 1533"/>
<path class="a" d="M2079 1430A1600 1600 0 0 1 2169 1533"/>
<path class="c" d="M2079 1430A1600 1600 0 0 0 2360 1641"/>
<path class="e" d="M2329 1408A1600 1600 0 0 1 2360 1641"/>
<path class="c" d="M2328 1076A1600 1600 0 0 1 2579 1465"/>
<path class="e" d="M2328 1076A1600 1600 0 0 1 2262 1931"/>
<path class="a" d="M1986 1703A1600 1600 0 0 0 1467 1477"/>
<path class="e" d="M1986 1703A1600 1600 0 0 0 1363 1341"/>
<path class="a" d="M1986 1703A1600 1600 0 0 1 1088 1465"/>
<path class="d" d="M1986 1703A1600 1600 0 0 0 1010 1737"/>
<path class="e" d="M2647 440A1600 1600 0 0 1 1705 946"/>
<path class="c" d="M2647 440A1600 1600 0 0 0 1088 1260"/>
<path class="e" d="M2647 440A1600 1600 0 0 1 1295 1112"/>
<path class="c" d="M2647 440A1800 1800 0 0 1 1088 1465"/>
<path class="g" d="M2647 440A1600 1600 0 0 1 1363 1341"/>
<path class="c" d="M2647 440A1600 1600 0 0 1 1397 1612"/>
<path class="c" d="M2635 713A1600 1600 0 0 0 1295 1112"/>
<path class="e" d="M2635 713A1600 1600 0 0 0 1088 1260"/>
<path class="c" d="M2635 713A1600 1600 0 0 1 1397 1612"/>
<path class="e" d="M2635 713A1600 1600 0 0 1 1467 1477"/>
<path class="g" d="M2635 713A1600 1600 0 0 1 1363 1341"/>
<path class="c" d="M2635 713A1600 1600 0 0 1 2083 1282"/>
<path class="e" d="M2635 713A1600 1600 0 0 1 1907 1339"/>
<path class="c" d="M2862 907A1600 1600 0 0 0 1295 1112"/>
<path class="e" d="M2862 907A1600 1600 0 0 1 1088 1260"/>
<path class="g" d="M2862 907A1600 1600 0 0 1 1363 1341"/>
<path class="c" d="M2862 907A1600 1600 0 0 1 1467 1477"/>
<path class="e" d="M2862 907A1600 1600 0 0 1 2079 1430"/>
<path class="c" d="M2862 907A1600 1600 0 0 1 2329 1408"/>
<path class="g" d="M2862 907A1600 1600 0 0 1 2169 1533"/>
<path class="d" d="M738 1419A1400 1400 0 0 1 1466 260"/>
<path class="e" d="M873 1090A1400 1400 0 0 1 1660 146"/>
<path class="d" d="M1010 1737A1000 1000 0 0 1 873 1090"/>
<path class="g" d="M1010 1737A1300 1300 0 0 1 884 851"/>
</g>
<g id="nodes">
<g id="node-city"><circle cx="1765" cy="1040" r="219" fill="url(#gcity)"/><text class="L" x="1783" y="1045" textLength="78" lengthAdjust="spacingAndGlyphs">city</text></g>
<g id="node-urban-sustainability"><circle cx="2147" cy="941" r="295" fill="url(#gus)"/><circle cx="2150" cy="946" r="22" fill="#e0a400" fill-opacity=".5"/><text class="L" x="2148" y="944" textLength="421" lengthAdjust="spacingAndGlyphs">urban sustainability</text></g>
<g id="node-behavior"><circle class="n" cx="1660" cy="146" r="54"/><text class="S" x="1656" y="146" textLength="94" lengthAdjust="spacingAndGlyphs">behavior</text></g>
<g id="node-green-infrastructure"><circle class="n" cx="2032" cy="170" r="56"/><text class="L" x="2034" y="169" textLength="435" lengthAdjust="spacingAndGlyphs">green infrastructure</text></g>
<g id="node-patterns"><circle class="n" cx="1466" cy="260" r="56"/><text class="L" x="1465" y="260" textLength="180" lengthAdjust="spacingAndGlyphs">patterns</text></g>
<g id="node-ecosystem-services"><circle class="n" cx="1884" cy="295" r="78"/><text class="L" x="1886" y="295" textLength="422" lengthAdjust="spacingAndGlyphs">ecosystem services</text></g>
<g id="node-impacts"><circle class="n" cx="2135" cy="374" r="55"/><text class="L" x="2135" y="374" textLength="169" lengthAdjust="spacingAndGlyphs">impacts</text></g>
<g id="node-framework"><circle class="n" cx="2647" cy="440" r="100"/><text class="L" x="2647" y="442" textLength="229" lengthAdjust="spacingAndGlyphs">framework</text></g>
<g id="node-urban"><circle class="n" cx="1236" cy="430" r="43"/><text class="L" x="1237" y="430" textLength="127" lengthAdjust="spacingAndGlyphs">urban</text></g>
<g id="node-climate"><circle class="n" cx="1726" cy="442" r="44"/><text class="M" x="1724" y="443" textLength="116" lengthAdjust="spacingAndGlyphs">climate</text></g>
<g id="node-land-use"><circle class="n" cx="1510" cy="499" r="79"/><text class="L" x="1513" y="497" textLength="181" lengthAdjust="spacingAndGlyphs">land use</text></g>
<g id="node-infrastructure"><circle class="n" cx="1122" cy="544" r="44"/><text class="L" x="1124" y="542" textLength="296" lengthAdjust="spacingAndGlyphs">infrastructure</text></g>
<g id="node-indicators"><circle class="n" cx="1940" cy="567" r="89"/><text class="L" x="1941" y="563" textLength="217" lengthAdjust="spacingAndGlyphs">indicators</text></g>
<g id="node-china"><circle class="n" cx="2260" cy="567" r="78"/><text class="L" x="2263" y="567" textLength="115" lengthAdjust="spacingAndGlyphs">china</text></g>
<g id="node-health"><circle class="n" cx="1716" cy="634" r="54"/><text class="L" x="1717" y="634" textLength="128" lengthAdjust="spacingAndGlyphs">health</text></g>
<g id="node-design"><circle class="n" cx="1534" cy="634" r="54"/><text class="L" x="1534" y="634" textLength="143" lengthAdjust="spacingAndGlyphs">design</text></g>
<g id="node-sustainability"><circle class="n" cx="2635" cy="713" r="78"/><text class="L" x="2637" y="715" textLength="283" lengthAdjust="spacingAndGlyphs">sustainability</text></g>
<g id="node-consumption"><circle class="n" cx="1260" cy="727" r="44"/><text class="L" x="1261" y="728" textLength="278" lengthAdjust="spacingAndGlyphs">consumption</text></g>
<g id="node-ecology"><circle cx="1690" cy="735" r="44" fill="url(#gy)"/><text class="L" x="1694" y="739" textLength="165" lengthAdjust="spacingAndGlyphs">ecology</text></g>
<g id="node-areas"><circle class="n" cx="1923" cy="723" r="36"/><text class="L" x="1923" y="725" textLength="114" lengthAdjust="spacingAndGlyphs">areas</text></g>
<g id="node-energy"><circle class="n" cx="884" cy="851" r="67"/><text class="L" x="886" y="853" textLength="150" lengthAdjust="spacingAndGlyphs">energy</text></g>
<g id="node-model"><circle class="n" cx="1549" cy="838" r="100"/><text class="L" x="1545" y="839" textLength="126" lengthAdjust="spacingAndGlyphs">model</text></g>
<g id="node-systems"><circle class="n" cx="1819" cy="838" r="60"/><text class="L" x="1819" y="839" textLength="174" lengthAdjust="spacingAndGlyphs">systems</text></g>
<g id="node-environment"><circle class="n" cx="1393" cy="897" r="55"/><text class="L" x="1397" y="895" textLength="267" lengthAdjust="spacingAndGlyphs">environment</text></g>
<g id="node-impact"><circle class="n" cx="2862" cy="907" r="78"/><text class="L" x="2864" y="907" textLength="142" lengthAdjust="spacingAndGlyphs">impact</text></g>
<g id="node-landscape"><circle class="n" cx="1705" cy="946" r="43"/><text class="L" x="1705" y="944" textLength="215" lengthAdjust="spacingAndGlyphs">landscape</text></g>
<g id="node-management"><circle class="n" cx="1158" cy="988" r="101"/><text class="L" x="1158" y="988" textLength="272" lengthAdjust="spacingAndGlyphs">management</text></g>
<g id="node-growth"><circle class="n" cx="2328" cy="1076" r="55"/><text class="L" x="2332" y="1076" textLength="151" lengthAdjust="spacingAndGlyphs">growth</text></g>
<g id="node-urbanization"><circle class="r" cx="873" cy="1090" r="112"/><text class="L" x="875" y="1089" textLength="270" lengthAdjust="spacingAndGlyphs">urbanization</text></g>
<g id="node-resilience"><circle class="n" cx="1295" cy="1112" r="67"/><text class="L" x="1295" y="1112" textLength="202" lengthAdjust="spacingAndGlyphs">resilience</text></g>
<g id="node-space"><circle cx="1420" cy="1203" r="33" fill="url(#gy)"/><text class="M" x="1417" y="1205" textLength="96" lengthAdjust="spacingAndGlyphs">space</text></g>
<g id="node-system"><circle class="n" cx="1750" cy="1204" r="52"/><text class="L" x="1749" y="1203" textLength="153" lengthAdjust="spacingAndGlyphs">system</text></g>
<g id="node-urban-planning"><circle class="n" cx="1588" cy="1260" r="66"/><text class="L" x="1593" y="1262" textLength="321" lengthAdjust="spacingAndGlyphs">urban planning</text></g>
<g id="node-conservation"><circle class="n" cx="1088" cy="1260" r="66"/><text class="L" x="1089" y="1260" textLength="279" lengthAdjust="spacingAndGlyphs">conservation</text></g>
<g id="node-challenges"><circle class="n" cx="2083" cy="1282" r="72"/><text class="L" x="2083" y="1292" textLength="223" lengthAdjust="spacingAndGlyphs">challenges</text></g>
<g id="node-community"><circle cx="1907" cy="1339" r="42" fill="url(#gy)"/><text class="L" x="1909" y="1341" textLength="235" lengthAdjust="spacingAndGlyphs">community</text></g>
<g id="node-dynamics"><circle class="n" cx="2601" cy="1282" r="66"/><text class="L" x="2603" y="1284" textLength="201" lengthAdjust="spacingAndGlyphs">dynamics</text></g>
<g id="node-buildings"><circle class="n" cx="1363" cy="1341" r="55"/><text class="M" x="1363" y="1341" textLength="140" lengthAdjust="spacingAndGlyphs">buildings</text></g>
<g id="node-performance"><circle class="n" cx="1467" cy="1477" r="77"/><text class="M" x="1463" y="1476" textLength="205" lengthAdjust="spacingAndGlyphs">performance</text></g>
<g id="node-climate-change"><circle class="r" cx="1088" cy="1465" r="112"/><text class="L" x="1091" y="1465" textLength="318" lengthAdjust="spacingAndGlyphs">climate change</text></g>
<g id="node-industrial-heritage"><circle class="r" cx="738" cy="1419" r="101"/><text class="M" x="735" y="1419" textLength="284" lengthAdjust="spacingAndGlyphs">industrial heritage</text></g>
<g id="node-smart-city"><circle class="n" cx="1782" cy="1431" r="43"/><text class="M" x="1782" y="1430" textLength="158" lengthAdjust="spacingAndGlyphs">smart city</text></g>
<g id="node-knowledge"><circle class="n" cx="2079" cy="1430" r="55"/><text class="M" x="2079" y="1430" textLength="171" lengthAdjust="spacingAndGlyphs">knowledge</text></g>
<g id="node-innovation"><circle class="n" cx="2329" cy="1408" r="44"/><text class="M" x="2330" y="1408" textLength="158" lengthAdjust="spacingAndGlyphs">innovation</text></g>
<g id="node-policy"><circle class="n" cx="2579" cy="1465" r="90"/><text class="L" x="2581" y="1463" textLength="126" lengthAdjust="spacingAndGlyphs">policy</text></g>
<g id="node-science"><circle class="n" cx="1737" cy="1521" r="33"/><text class="L" x="1739" y="1523" textLength="158" lengthAdjust="spacingAndGlyphs">science</text></g>
<g id="node-urban-agriculture"><circle class="n" cx="2169" cy="1533" r="33"/><text class="M" x="2170" y="1533" textLength="267" lengthAdjust="spacingAndGlyphs">urban agriculture</text></g>
<g id="node-governance"><circle class="n" cx="1986" cy="1703" r="112"/><text class="L" x="1985" y="1702" textLength="254" lengthAdjust="spacingAndGlyphs">governance</text></g>
<g id="node-sustainable-development"><circle class="n" cx="1397" cy="1612" r="88"/><text class="L" x="1396" y="1612" textLength="532" lengthAdjust="spacingAndGlyphs">sustainable development</text></g>
<g id="node-quality"><circle class="n" cx="2360" cy="1641" r="40"/><text class="M" x="2361" y="1646" textLength="102" lengthAdjust="spacingAndGlyphs">quality</text></g>
<g id="node-architectural-heritage"><circle class="r" cx="1010" cy="1737" r="124"/><text class="M" x="1008" y="1739" textLength="338" lengthAdjust="spacingAndGlyphs">architectural heritage</text></g>
<g id="node-future-tourism"><circle class="n" cx="1454" cy="1771" r="44"/><circle class="n" cx="1556" cy="1771" r="55"/><text class="M" x="1452" y="1771" textLength="224" lengthAdjust="spacingAndGlyphs">future tourism</text></g>
<g id="node-sustainable-cities"><circle class="n" cx="1738" cy="1839" r="43"/><text class="M" x="1737" y="1839" textLength="273" lengthAdjust="spacingAndGlyphs">sustainable cities</text></g>
<g id="node-heritage"><circle class="n" cx="1374" cy="1874" r="43"/><text class="S" x="1373" y="1873" textLength="82" lengthAdjust="spacingAndGlyphs">heritage</text></g>
<g id="node-strategy"><circle class="n" cx="2262" cy="1931" r="66"/><text class="M" x="2261" y="1932" textLength="130" lengthAdjust="spacingAndGlyphs">strategy</text></g>
<g id="node-politics"><circle class="n" cx="2066" cy="1965" r="66"/><text class="L" x="2067" y="1962" textLength="152" lengthAdjust="spacingAndGlyphs">politics</text></g>
<g id="node-cultural-heritage"><circle class="r" cx="1646" cy="2010" r="101"/><text class="M" x="1645" y="2010" textLength="259" lengthAdjust="spacingAndGlyphs">cultural heritage</text></g>
</g>
</svg>
